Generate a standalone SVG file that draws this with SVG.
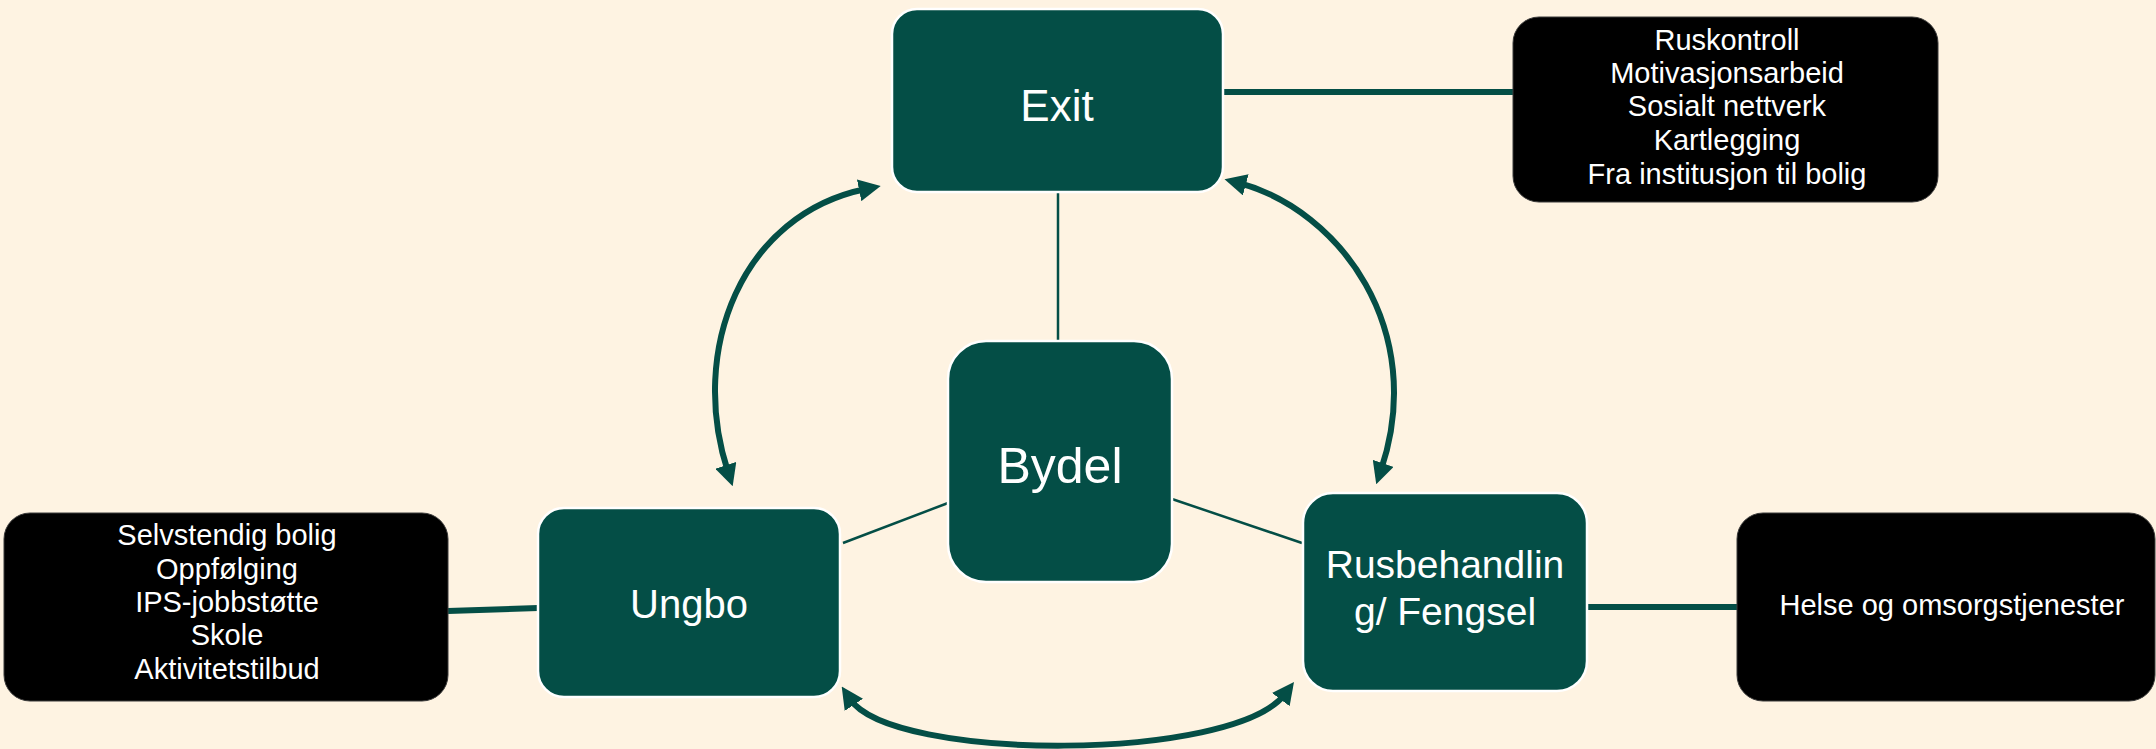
<svg xmlns="http://www.w3.org/2000/svg" width="2156" height="749" viewBox="0 0 2156 749">
<style>
.bg{fill:#FEF3E2}
.node{fill:#044E46;stroke:#FFFFFF;stroke-width:2.5}
.info{fill:#000000;stroke:#3a3a3a;stroke-width:1}
.t{font-family:"Liberation Sans",Arial,sans-serif;fill:#FFFFFF;text-anchor:middle}
.li{font-family:"Liberation Sans",Arial,sans-serif;fill:#FFFFFF;text-anchor:middle}
.thick{stroke:#044E46;stroke-width:6;fill:none}
.thin{stroke:#044E46;stroke-width:2.5;fill:none}
.arc{stroke:#044E46;stroke-width:6;fill:none;marker-start:url(#ah);marker-end:url(#ah)}
</style>
<defs>
<marker id="ah" markerUnits="userSpaceOnUse" markerWidth="22" markerHeight="22" refX="7" refY="11" orient="auto-start-reverse">
<path d="M0,0 L22,11 L0,22 z" fill="#044E46"/>
</marker>
</defs>
<rect class="bg" x="0" y="0" width="2156" height="749"/>
<g id="connectors">
<line class="thick" x1="1223" y1="92" x2="1513" y2="92"/>
<line class="thick" x1="448" y1="611" x2="538" y2="608"/>
<line class="thick" x1="1587" y1="607" x2="1737" y2="607"/>
<line class="thin" x1="1058" y1="193" x2="1058" y2="341"/>
<line class="thin" x1="948" y1="503" x2="843" y2="543"/>
<line class="thin" x1="1172" y1="499" x2="1302" y2="543"/>
<path class="arc" d="M866,189 C742,214 688,350 728,472"/>
<path class="arc" d="M1239,183 C1340,210 1428,330 1381,470"/>
<path class="arc" d="M850,699 C892,762 1234,762 1285,694"/>
</g>
<g id="exit">
<rect class="node" x="892" y="9" width="331" height="183" rx="25"/>
<text class="t" x="1057" y="121" font-size="44">Exit</text>
</g>
<g id="bydel">
<rect class="node" x="948" y="341" width="224" height="241" rx="38"/>
<text class="t" x="1060" y="483" font-size="50">Bydel</text>
</g>
<g id="ungbo">
<rect class="node" x="538" y="508" width="302" height="189" rx="26"/>
<text class="t" x="689" y="618" font-size="40">Ungbo</text>
</g>
<g id="rus">
<rect class="node" x="1303" y="493" width="284" height="198" rx="30"/>
<text class="t" x="1445" y="578" font-size="39">Rusbehandlin</text>
<text class="t" x="1445" y="625" font-size="39">g/ Fengsel</text>
</g>
<g id="exit-info">
<rect class="info" x="1513" y="17" width="425" height="185" rx="26"/>
<text class="li" font-size="29"><tspan x="1727" y="50">Ruskontroll</tspan><tspan x="1727" y="83">Motivasjonsarbeid</tspan><tspan x="1727" y="116">Sosialt nettverk</tspan><tspan x="1727" y="150">Kartlegging</tspan><tspan x="1727" y="184">Fra institusjon til bolig</tspan></text>
</g>
<g id="ungbo-info">
<rect class="info" x="4" y="513" width="444" height="188" rx="26"/>
<text class="li" font-size="29"><tspan x="227" y="545">Selvstendig bolig</tspan><tspan x="227" y="579">Oppfølging</tspan><tspan x="227" y="612">IPS-jobbstøtte</tspan><tspan x="227" y="645">Skole</tspan><tspan x="227" y="679">Aktivitetstilbud</tspan></text>
</g>
<g id="rus-info">
<rect class="info" x="1737" y="513" width="418" height="188" rx="26"/>
<text class="li" x="1952" y="615" font-size="29">Helse og omsorgstjenester</text>
</g>
</svg>
